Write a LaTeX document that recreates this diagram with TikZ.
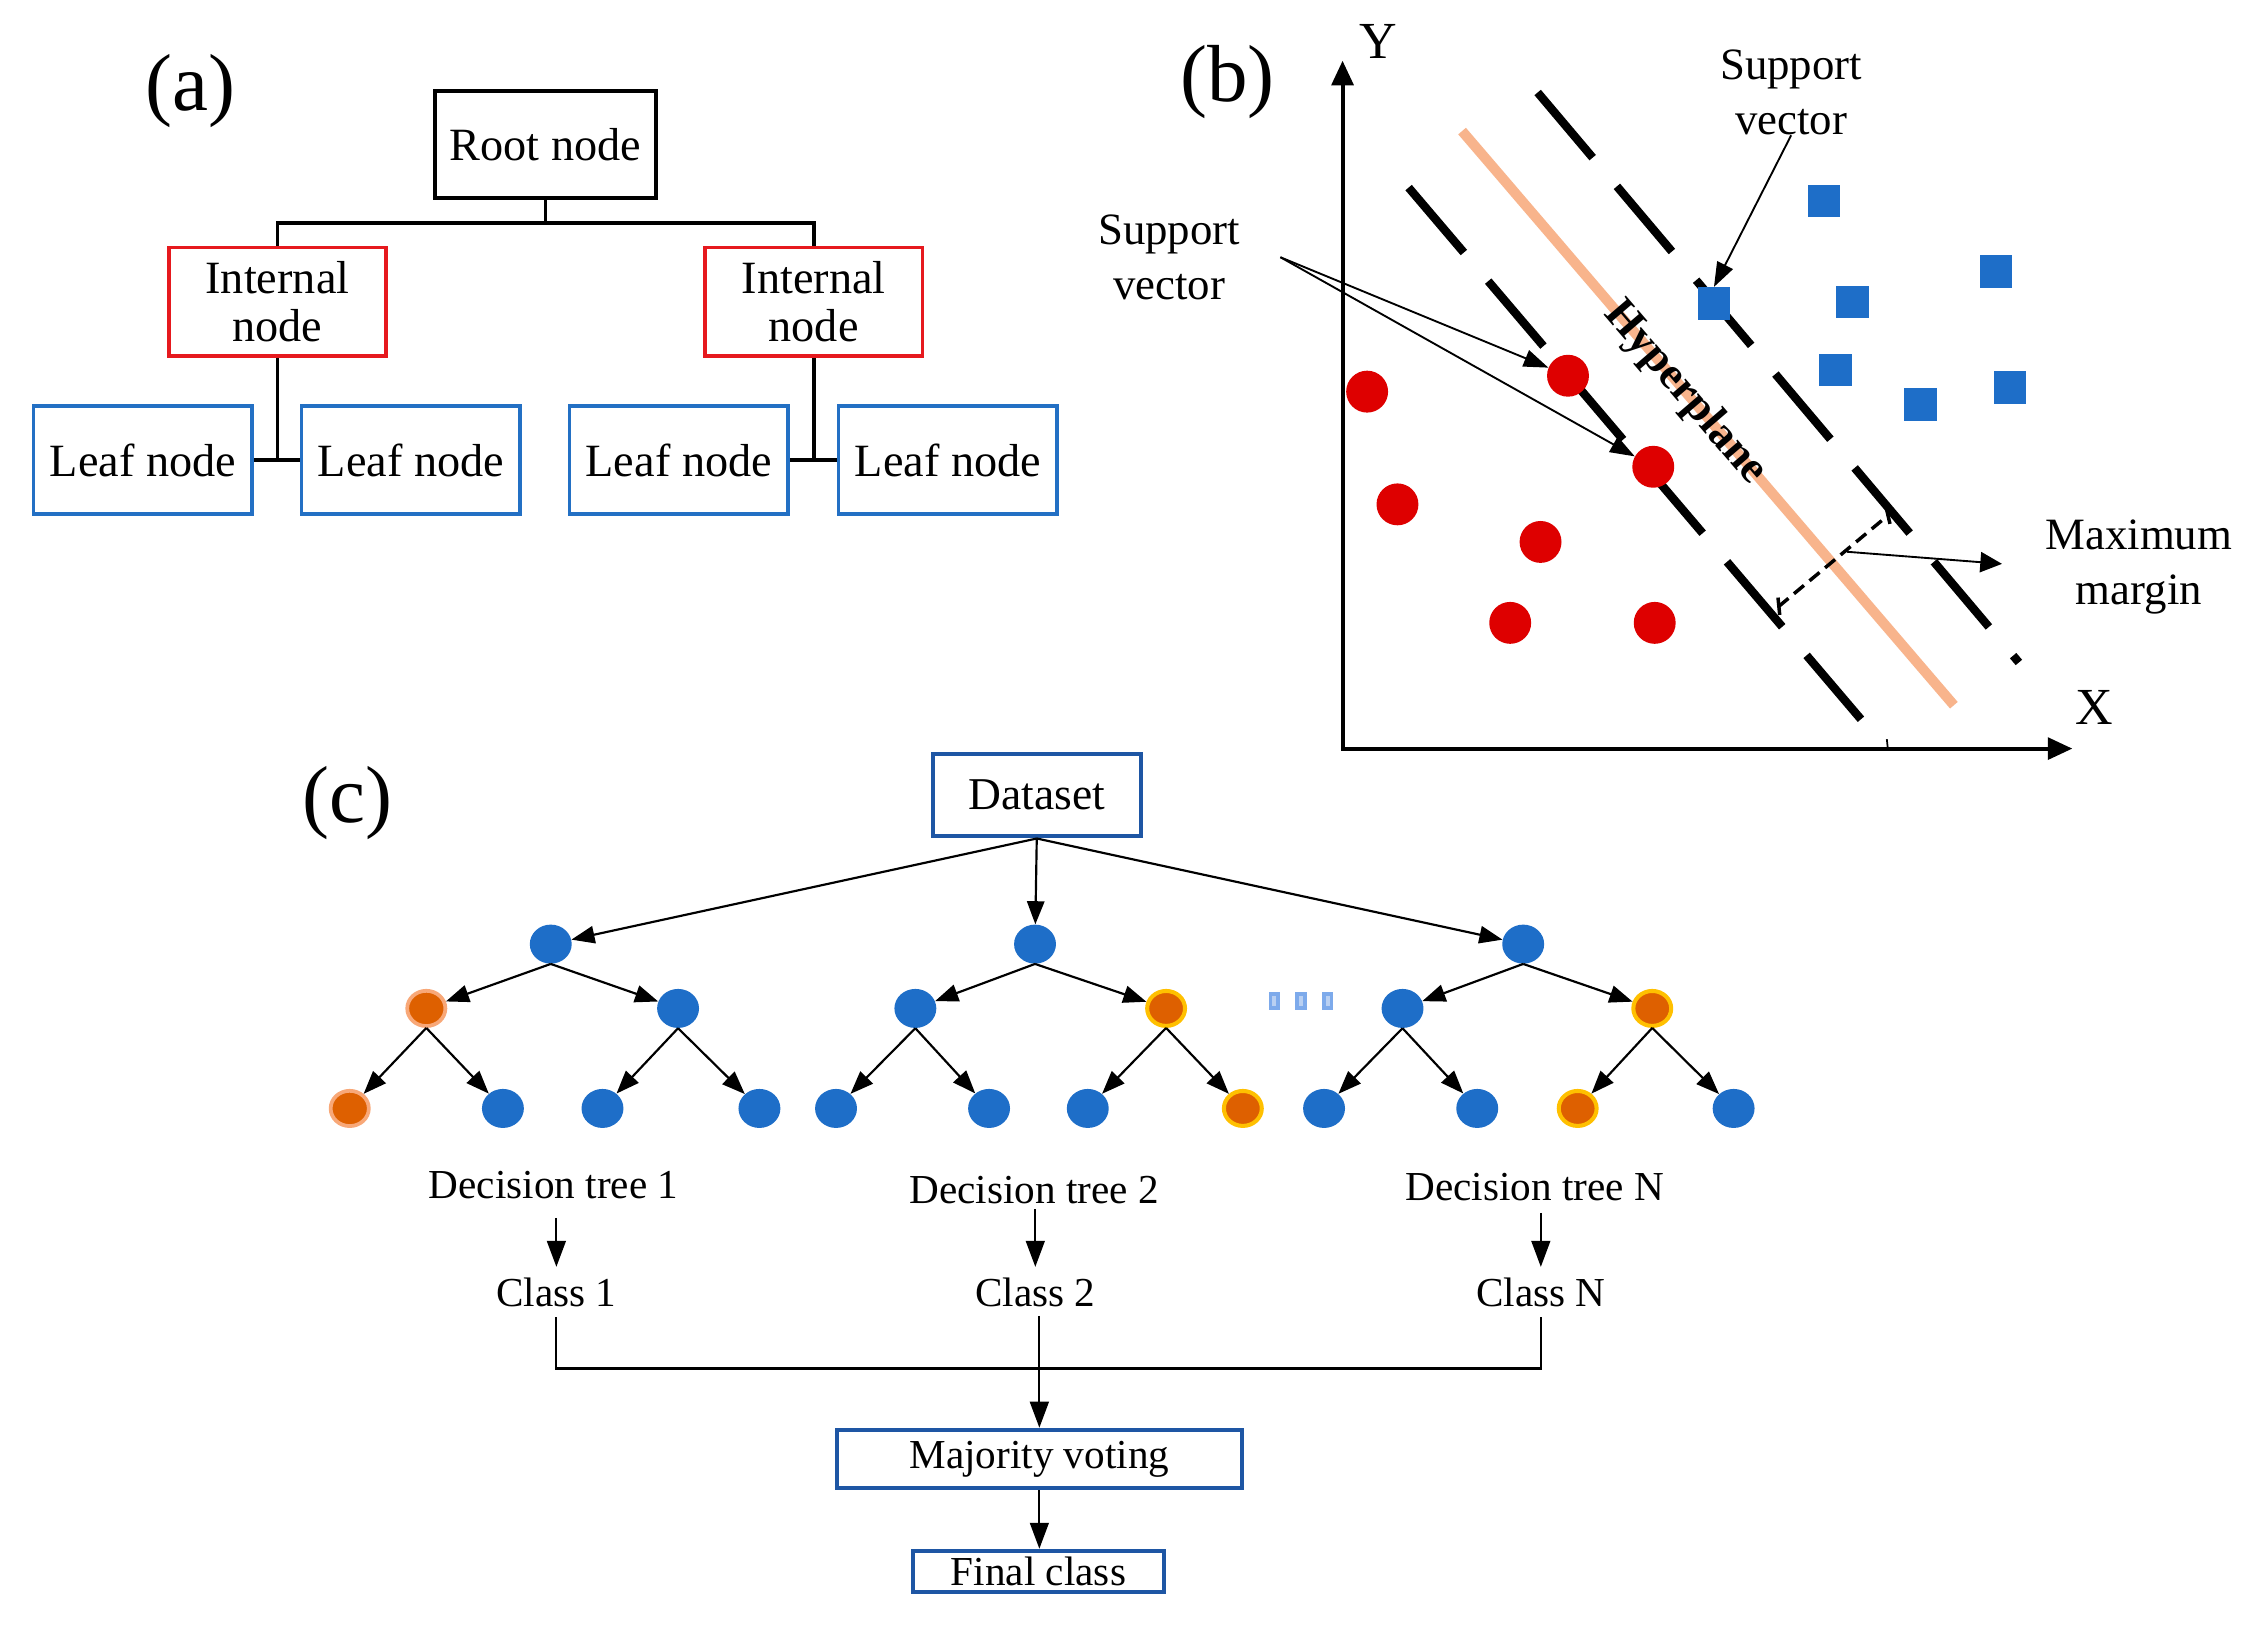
\documentclass[tikz,border=0pt]{standalone}
\usepackage{fontspec}
\setmainfont{Liberation Serif}
\usetikzlibrary{arrows.meta,shapes.geometric}
\newcommand\myfs[2]{\fontsize{#1}{#2}\selectfont}
\definecolor{redbox}{RGB}{230,25,30}
\definecolor{bluebox}{RGB}{35,112,196}
\definecolor{dsblue}{RGB}{30,86,164}
\definecolor{ptred}{RGB}{222,0,0}
\definecolor{ptblue}{RGB}{30,110,200}
\definecolor{hypcol}{RGB}{248,180,140}
\definecolor{nblue}{RGB}{30,110,200}
\definecolor{norange}{RGB}{222,96,0}
\definecolor{nyellow}{RGB}{255,192,0}
\definecolor{nhalo}{RGB}{248,168,120}
\definecolor{dotblue}{RGB}{125,170,235}
\definecolor{dotlight}{RGB}{185,208,242}
\begin{document}
\begin{tikzpicture}[x=1pt,y=-1pt,
  abox/.style={draw, line width=2.6pt, inner sep=0pt, align=center, font=\myfs{32}{33.5}},
  rootbox/.style={abox, minimum width=152.5pt, minimum height=74pt},
  intbox/.style={abox, draw=redbox, minimum width=150.5pt, minimum height=75.2pt},
  leafbox/.style={abox, draw=bluebox, minimum width=151.4pt, minimum height=74.8pt},
  aline/.style={line width=2.6pt},
  plabel/.style={font=\myfs{56}{60}, inner sep=0pt},
  axlabel/.style={font=\myfs{36}{40}, inner sep=0pt},
  note/.style={font=\myfs{31}{38}, align=center, inner sep=0pt},
  thinarr/.style={line width=1.3pt, -{Triangle[length=17pt,width=12pt]}},
  mmarr/.style={line width=1.3pt, -{Triangle[length=15pt,width=14pt]}},
  axis/.style={line width=2.8pt, {Triangle[length=17pt,width=15pt]}-{Triangle[length=17pt,width=15pt]}},
  marginline/.style={line width=5.8pt, dash pattern=on 59pt off 26pt},
  rdot/.style={circle, fill=ptred, minimum size=29pt, inner sep=0pt},
  bsq/.style={rectangle, fill=ptblue, minimum size=22.5pt, inner sep=0pt},
  cbox/.style={draw=dsblue, line width=2.8pt, inner sep=0pt},
  tnode/.style={ellipse, inner sep=0pt, minimum width=29pt, minimum height=27pt},
  bn/.style={tnode, fill=nblue},
  ohalo/.style={tnode, fill=norange, draw=nhalo, line width=2.6pt, minimum width=26.4pt, minimum height=24.4pt},
  oyel/.style={tnode, fill=norange, draw=nyellow, line width=2.8pt, minimum width=26.2pt, minimum height=24.2pt},
  carr/.style={line width=1.5pt, -{Triangle[length=16pt,width=12pt]}},
  barr/.style={line width=1.5pt, -{Triangle[length=18pt,width=13pt]}},
  ctext/.style={font=\myfs{28.5}{32}, inner sep=0pt},
  cline/.style={line width=1.5pt},
  dotrect/.style={draw=dotblue, fill=dotlight, line width=2.6pt, minimum width=5.4pt, minimum height=10pt, inner sep=0pt}
]
\useasboundingbox (0,0) rectangle (1568,1126.5);
\fill[white] (0,0) rectangle (1568,1126.5);

% ---------------- (a) ----------------
\node[plabel] (la) at (132,63) {(a)};
\node[rootbox] (root) at (377.5,100.1) {Root node};
\node[intbox] (ia) at (192,208.9) {Internal\\node};
\node[intbox] (ib) at (563,208.9) {Internal\\node};
\node[leafbox] (l1) at (98.9,318.5) {Leaf node};
\node[leafbox] (l2) at (284.3,318.5) {Leaf node};
\node[leafbox] (l3) at (469.7,318.5) {Leaf node};
\node[leafbox] (l4) at (655.9,318.5) {Leaf node};
\coordinate (abus) at (377.5,154.5);
\draw[aline] (root.south) -- (abus);
\draw[aline] (ia.north) |- (abus) -| (ib.north);
\draw[aline] (ia.south) -- (ia.south |- l1.east);
\draw[aline] (l1.east) -- (l2.west);
\draw[aline] (ib.south) -- (ib.south |- l3.east);
\draw[aline] (l3.east) -- (l4.west);

% ---------------- (b) ----------------
\node[plabel] (lb) at (849.5,57) {(b)};
\coordinate (O) at (929,518);
\coordinate (ytip) at (929,42);
\coordinate (xtip) at (1434,518);
\draw[axis] (ytip) -- (O) -- (xtip);
\node[axlabel] (ylab) at (954,29) {Y};
\node[axlabel] (xlab) at (1449,489.6) {X};
\draw[line width=1.2pt] (1305.6,511.5) -- (1306.2,517);

\coordinate (h1) at (1011.7,90.7);
\coordinate (h2) at (1352,488);
\draw[line width=7pt, hypcol] (h1) -- (h2);
\draw[marginline] (974.7,129.8) -- (1287.7,497.7);
\draw[marginline] (1064,64) -- (1397,458.4);
\draw[line width=2.4pt, dash pattern=on 9pt off 5pt] (1230.6,419.8) -- (1306.7,356.4);
\draw[line width=2.4pt] (1230.3,413.5) -- (1231.5,425.5);
\draw[line width=2.4pt] (1305.2,351.5) -- (1307.8,362.5);
\node[font=\bfseries\myfs{31}{34}, rotate=-49.4, inner sep=0pt] (hyp) at (1166,272) {Hyperplane};

\node[rdot] (rc1) at (946,271) {};
\node[rdot] (rc2) at (967,349) {};
\node[rdot] (rc3) at (1085,260) {};
\node[rdot] (rc4) at (1144,323) {};
\node[rdot] (rc5) at (1066,375) {};
\node[rdot] (rc6) at (1045,431) {};
\node[rdot] (rc7) at (1145,431) {};

\node[bsq] (sq1) at (1262,139) {};
\node[bsq] (sq2) at (1381,188) {};
\node[bsq] (sq3) at (1186,210) {};
\node[bsq] (sq4) at (1282,209) {};
\node[bsq] (sq5) at (1270,256) {};
\node[bsq] (sq6) at (1329,280) {};
\node[bsq] (sq7) at (1391,268) {};

\node[note] (svu) at (1239.4,64) {Support\\vector};
\node[note] (svl) at (809,178.2) {Support\\vector};
\node[note] (mm) at (1480,392.5) {Maximum\\margin};
\coordinate (svfork) at (886,178);
\coordinate (mmstart) at (1278,381.8);
\draw[thinarr] (svu.south) -- (sq3.north);
\draw[thinarr] (svfork) -- (rc3);
\draw[thinarr] (svfork) -- (rc4);
\draw[mmarr, shorten >=30pt] (mmstart) -- (mm.west);

% ---------------- (c) ----------------
\node[plabel] (lc) at (240.7,556) {(c)};
\node[cbox, minimum width=144pt, minimum height=57.2pt, font=\myfs{31.5}{34}] (ds) at (717.4,550.2) {Dataset};

\node[bn] (t1) at (381.1,653.3) {};
\node[bn] (t2) at (716.2,653.3) {};
\node[bn] (t3) at (1054,653.3) {};

\node[ohalo] (t1a) at (295,697.8) {};
\node[bn] (t1b) at (469.2,697.8) {};
\node[bn] (t2a) at (633.4,697.8) {};
\node[oyel] (t2b) at (806.9,697.8) {};
\node[bn] (t3a) at (970.5,697.8) {};
\node[oyel] (t3b) at (1143.3,697.8) {};

\node[ohalo] (t1aa) at (242,767) {};
\node[bn] (t1ab) at (348,767) {};
\node[bn] (t1ba) at (416.9,767) {};
\node[bn] (t1bb) at (525.5,767) {};
\node[bn] (t2aa) at (578.5,767) {};
\node[bn] (t2ab) at (684.4,767) {};
\node[bn] (t2ba) at (752.7,767) {};
\node[oyel] (t2bb) at (860,767) {};
\node[bn] (t3aa) at (916.2,767) {};
\node[bn] (t3ab) at (1022.2,767) {};
\node[oyel] (t3ba) at (1091.7,767) {};
\node[bn] (t3bb) at (1199.6,767) {};

\node[dotrect] (d1) at (881.8,692.6) {};
\node[dotrect] (d2) at (900.2,692.6) {};
\node[dotrect] (d3) at (918.7,692.6) {};

\draw[carr] (ds.south) -- (t1);
\draw[carr] (ds.south) -- (t2);
\draw[carr] (ds.south) -- (t3);
\foreach \p in {t1,t2,t3}{
  \draw[carr] (\p.south) -- (\p a);
  \draw[carr] (\p.south) -- (\p b);
  \draw[carr] (\p a.south) -- (\p aa);
  \draw[carr] (\p a.south) -- (\p ab);
  \draw[carr] (\p b.south) -- (\p ba);
  \draw[carr] (\p b.south) -- (\p bb);
}

\node[ctext, anchor=base] (dt1) at (383,829.3) {Decision tree 1};
\node[ctext, anchor=base] (dt2) at (715.6,832.8) {Decision tree 2};
\node[ctext, anchor=base] (dtN) at (1062,830.4) {Decision tree N};
\node[ctext, anchor=base] (c1) at (385,904) {Class 1};
\node[ctext, anchor=base] (c2) at (716.4,904) {Class 2};
\node[ctext, anchor=base] (cN) at (1066.2,904) {Class N};

\draw[barr, shorten <=13pt, shorten >=7.4pt] (c1.north |- dt1.south) -- (c1.north);
\draw[barr, shorten <=3.6pt, shorten >=7.4pt] (c2.north |- dt2.south) -- (c2.north);
\draw[barr, shorten <=8.4pt, shorten >=7.4pt] (cN.north |- dtN.south) -- (cN.north);

\node[cbox, minimum width=280.3pt, minimum height=40.3pt, font=\myfs{28.5}{32}] (mv) at (719.2,1009.5) {Majority voting};
\node[cbox, minimum width=174pt, minimum height=28.2pt, font=\myfs{28.5}{32}] (fc) at (718.6,1087.2) {Final class};

\coordinate (bus) at (717.4,947);
\draw[cline, shorten <=7pt, shorten >=7pt] (c1.south) |- (bus) -| (cN.south);
\draw[barr, shorten <=6pt] (c2.south -| mv.north) -- (mv.north);
\draw[barr] (mv.south) -- (mv.south |- fc.north);
\end{tikzpicture}
\end{document}
